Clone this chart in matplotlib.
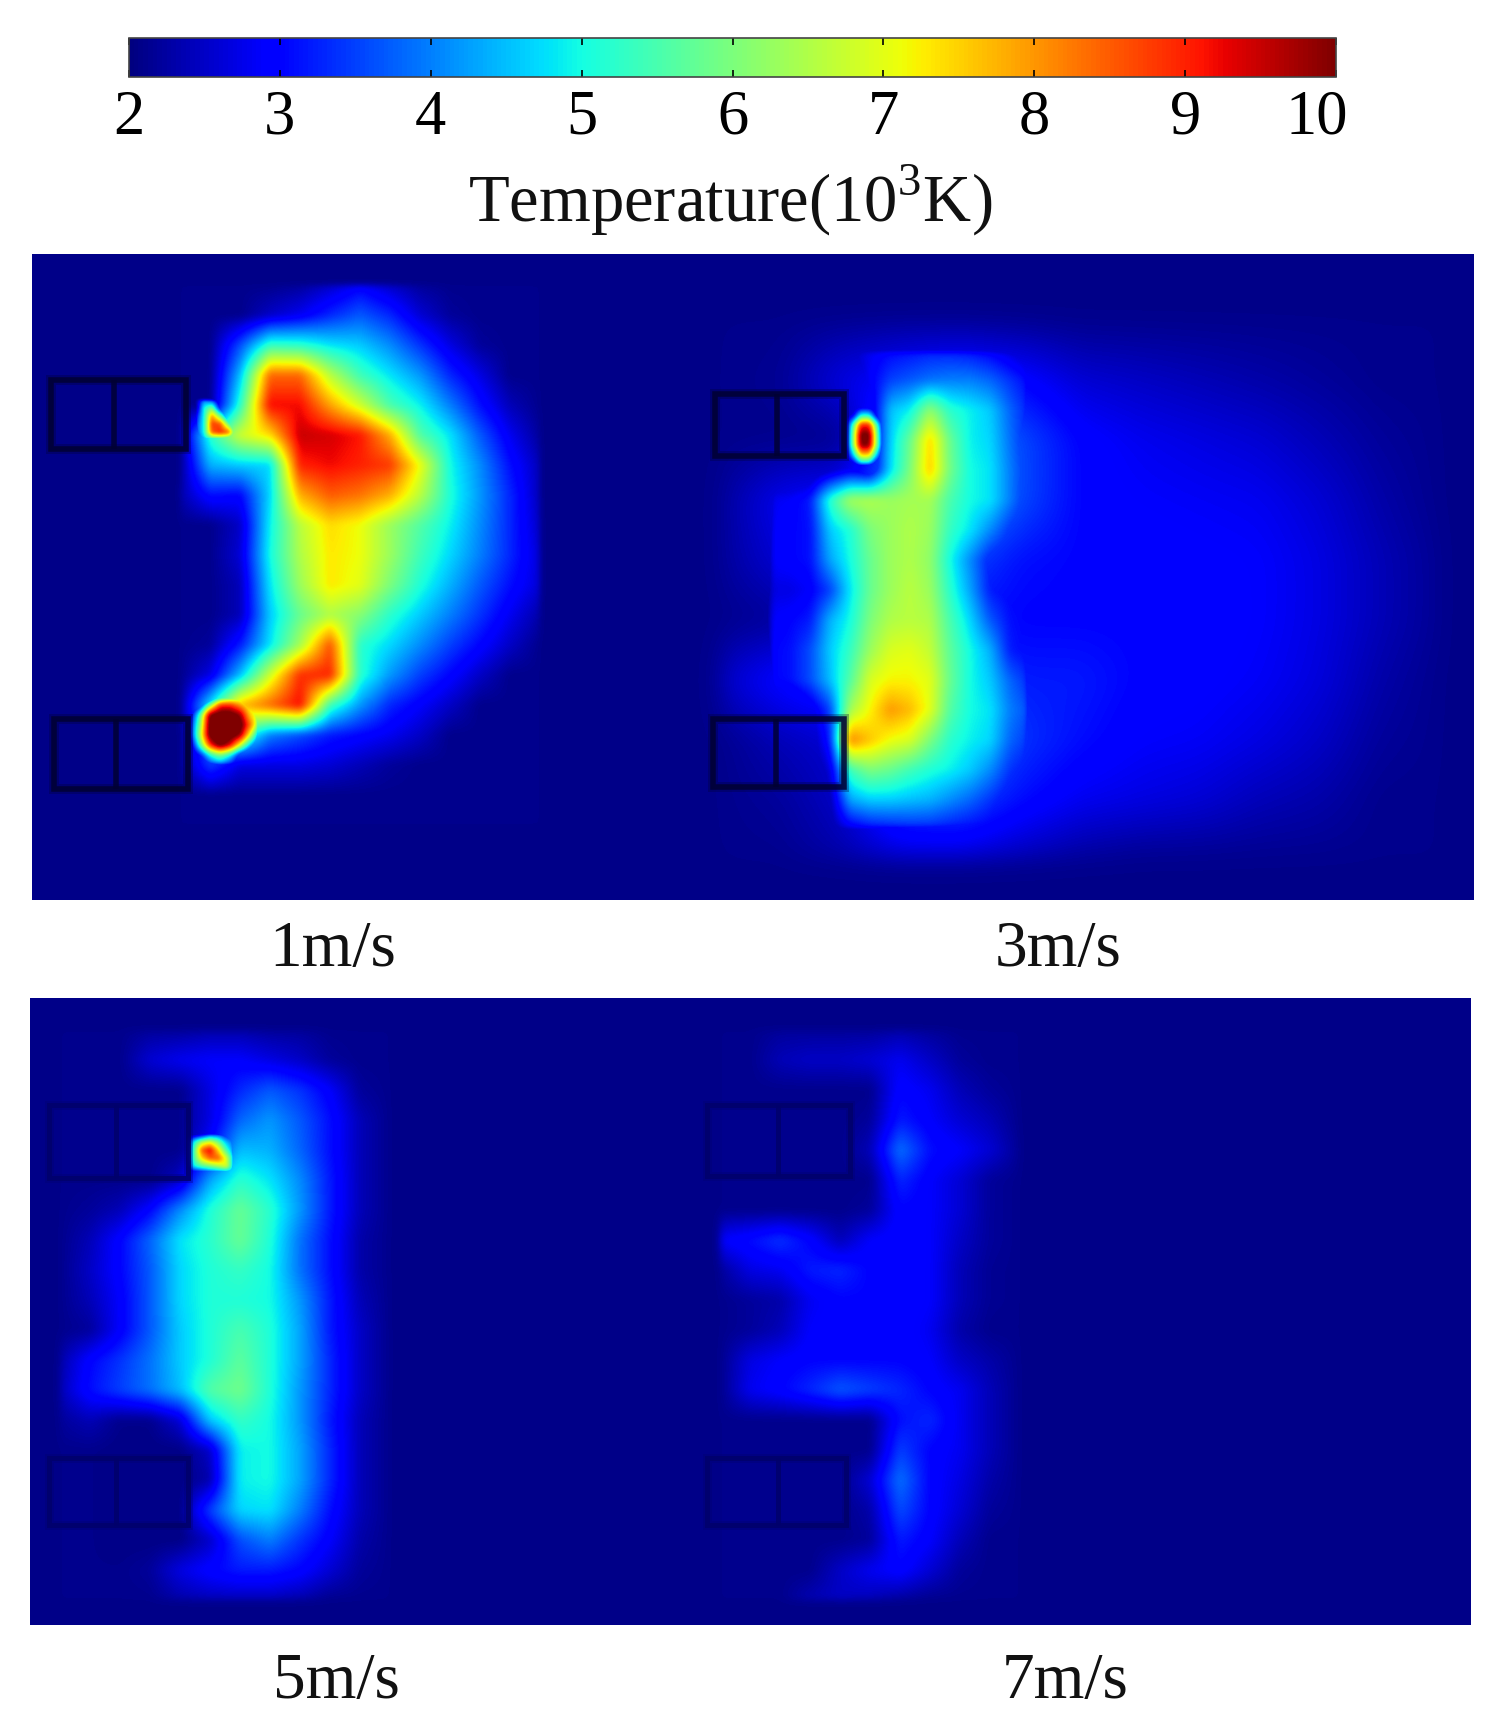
import numpy as np
import matplotlib
matplotlib.use("Agg")
import matplotlib.pyplot as plt
from matplotlib.cm import ScalarMappable
from matplotlib.colors import Normalize
from matplotlib.patches import Rectangle
from matplotlib.transforms import ScaledTranslation

plt.rcParams['font.family'] = ['Liberation Serif', 'DejaVu Serif']
plt.rcParams['mathtext.fontset'] = 'custom'
plt.rcParams['mathtext.rm'] = 'Liberation Serif'

W, H = 1495, 1717
BG = 2.08
T_MIN, T_MAX = 2, 10
cbar_ticks = [2, 3, 4, 5, 6, 7, 8, 9, 10]
speed_labels = ['1m/s', '3m/s', '5m/s', '7m/s']

# ---- 1 m/s ----
x1 = [180, 210, 240, 270, 300, 330, 360, 390, 420, 450, 480, 510, 540]
y1 = [285, 315, 345, 375, 405, 435, 465, 495, 525, 555, 585, 615, 645, 675, 705, 735, 765, 795, 825]
t1 = [
 [2.1, 2.1, 2.1, 2.1, 2.2, 2.5, 2.9, 2.5, 2.2, 2.1, 2.1, 2.1, 2.1],
 [2.1, 2.1, 2.1, 2.5, 2.8, 3.3, 3.7, 3.3, 2.6, 2.2, 2.1, 2.1, 2.1],
 [2.1, 2.1, 3.6, 5.3, 5.2, 4.8, 4.6, 4.1, 3.4, 2.7, 2.2, 2.1, 2.1],
 [2.1, 2.1, 4.5, 8.4, 8.4, 6.6, 5.4, 4.8, 4.2, 3.3, 2.7, 2.1, 2.1],
 [2.1, 2.1, 5.2, 9.2, 9.2, 7.9, 6.8, 5.5, 4.9, 4.0, 3.1, 2.4, 2.1],
 [2.1, 5.2, 6.8, 7.4, 9.5, 9.4, 9.1, 7.8, 5.6, 4.8, 3.7, 2.8, 2.2],
 [2.1, 4.4, 4.6, 4.7, 9.0, 9.2, 9.0, 8.8, 7.1, 5.0, 4.1, 3.1, 2.4],
 [2.3, 3.1, 3.0, 4.7, 7.8, 8.5, 8.3, 7.8, 6.6, 5.1, 4.2, 3.3, 2.4],
 [2.1, 2.1, 2.5, 4.9, 6.6, 7.4, 7.1, 6.3, 5.6, 4.9, 4.1, 3.3, 2.5],
 [2.1, 2.1, 2.6, 5.0, 6.5, 7.3, 7.1, 6.3, 5.4, 4.7, 4.0, 3.3, 2.6],
 [2.1, 2.1, 2.4, 4.8, 6.3, 7.3, 7.0, 6.0, 5.1, 4.4, 3.7, 3.1, 2.6],
 [2.1, 2.1, 2.4, 4.6, 5.8, 6.5, 6.1, 5.2, 4.6, 4.0, 3.4, 2.8, 2.3],
 [2.1, 2.2, 3.2, 4.8, 6.4, 8.6, 5.2, 4.7, 4.1, 3.5, 3.0, 2.5, 2.1],
 [2.1, 2.7, 4.5, 6.8, 8.9, 9.0, 5.2, 4.2, 3.5, 3.0, 2.5, 2.1, 2.1],
 [2.1, 4.8, 7.7, 8.4, 9.2, 5.4, 4.2, 3.3, 2.9, 2.5, 2.1, 2.1, 2.1],
 [2.1, 4.0, 5.5, 4.0, 3.6, 3.2, 3.0, 2.8, 2.5, 2.1, 2.1, 2.1, 2.1],
 [2.1, 3.5, 2.7, 2.7, 2.7, 2.6, 2.4, 2.2, 2.1, 2.1, 2.1, 2.1, 2.1],
 [2.1, 2.1, 2.1, 2.1, 2.1, 2.1, 2.1, 2.1, 2.1, 2.1, 2.1, 2.1, 2.1],
 [2.1, 2.1, 2.1, 2.1, 2.1, 2.1, 2.1, 2.1, 2.1, 2.1, 2.1, 2.1, 2.1],
]
x1a = [196, 204, 212, 220, 228, 236]
y1a = [400, 408, 416, 424, 432, 440]
t1a = [
 [2.1, 4.0, 3.5, 2.1, 2.1, 2.1],
 [2.1, 5.0, 6.0, 3.0, 2.1, 2.1],
 [3.0, 5.0, 8.0, 6.0, 3.5, 2.5],
 [3.5, 5.0, 8.8, 8.6, 6.0, 4.0],
 [3.5, 5.0, 8.5, 9.0, 8.5, 5.5],
 [3.0, 4.5, 5.0, 5.0, 5.0, 5.0],
]
x1b = [190, 200, 210, 220, 230, 240, 250, 260]
y1b = [695, 705, 715, 725, 735, 745, 755, 765]
t1b = [
 [2.1, 2.1, 2.1, 4.0, 5.0, 6.0, 6.0, 6.0],
 [2.1, 3.0, 6.0, 9.0, 9.0, 8.0, 7.0, 6.5],
 [2.5, 5.5, 10.3, 10.5, 10.5, 10.0, 7.5, 6.5],
 [3.0, 6.0, 10.5, 10.5, 10.5, 10.5, 8.5, 6.0],
 [3.0, 6.5, 10.5, 10.5, 10.5, 10.0, 7.0, 4.0],
 [2.1, 5.5, 9.0, 10.5, 9.5, 7.0, 4.5, 3.0],
 [2.1, 3.0, 5.0, 6.0, 5.0, 3.0, 2.5, 2.1],
 [2.1, 2.1, 3.4, 4.0, 3.2, 2.1, 2.1, 2.1],
]

# ---- 3 m/s ----
x3g = [720, 780, 840, 900, 960, 1020, 1080, 1140, 1200, 1260, 1320, 1380, 1440]
y3g = [320, 380, 440, 500, 560, 620, 680, 740, 800, 860]
t3g = [
 [2.1, 2.1, 2.15, 2.2, 2.2, 2.15, 2.1, 2.1, 2.1, 2.1, 2.1, 2.1, 2.1],
 [2.1, 2.15, 2.7, 3.0, 3.2, 3.0, 2.6, 2.5, 2.4, 2.3, 2.2, 2.1, 2.1],
 [2.1, 2.1, 2.1, 4.0, 4.5, 3.6, 3.0, 2.8, 2.7, 2.6, 2.4, 2.2, 2.1],
 [2.2, 2.8, 3.0, 4.0, 4.5, 3.6, 3.0, 2.9, 2.85, 2.8, 2.6, 2.3, 2.1],
 [2.2, 2.6, 3.1, 4.2, 3.6, 3.1, 3.0, 3.0, 2.95, 2.9, 2.7, 2.4, 2.15],
 [2.1, 2.2, 3.0, 4.0, 3.1, 3.0, 3.0, 3.0, 3.0, 2.9, 2.7, 2.4, 2.15],
 [2.5, 3.0, 3.3, 4.2, 3.6, 3.2, 3.2, 3.0, 2.95, 2.85, 2.65, 2.3, 2.1],
 [2.1, 2.4, 2.6, 4.2, 4.3, 3.4, 3.1, 2.9, 2.85, 2.7, 2.5, 2.2, 2.1],
 [2.1, 2.2, 2.5, 3.5, 3.6, 3.1, 2.8, 2.7, 2.6, 2.4, 2.3, 2.1, 2.1],
 [2.1, 2.1, 2.3, 2.6, 2.6, 2.4, 2.2, 2.1, 2.1, 2.1, 2.1, 2.1, 2.1],
]
x3c = [770, 790, 810, 830, 850, 870, 890, 910, 930, 950, 970, 990, 1010, 1030]
y3c = [350, 380, 410, 440, 470, 500, 530, 560, 590, 620, 650, 680, 710, 740, 770, 800, 830]
t3c = [
 [2.1, 2.1, 2.1, 2.1, 2.4, 2.8, 3.0, 3.1, 3.2, 3.2, 3.1, 2.9, 2.6, 2.3],
 [2.1, 2.1, 2.1, 2.1, 2.3, 2.9, 3.5, 3.7, 3.9, 4.0, 4.0, 3.8, 3.4, 3.0],
 [2.1, 2.1, 2.1, 2.1, 2.2, 2.5, 4.5, 4.9, 6.2, 5.2, 4.9, 4.6, 3.8, 3.2],
 [2.1, 2.1, 2.1, 2.1, 2.1, 2.4, 4.6, 5.8, 7.5, 5.8, 4.9, 4.7, 3.9, 3.2],
 [2.1, 2.1, 2.1, 2.4, 2.8, 2.6, 4.7, 6.0, 7.6, 5.9, 5.0, 4.8, 4.0, 3.3],
 [2.8, 2.9, 3.2, 5.2, 6.4, 6.5, 6.3, 6.4, 6.4, 5.5, 5.0, 4.8, 4.0, 3.2],
 [2.9, 3.0, 3.1, 4.6, 5.1, 6.0, 6.3, 6.5, 6.3, 5.3, 4.8, 4.1, 3.4, 3.1],
 [2.9, 3.0, 3.1, 4.3, 5.0, 5.8, 6.3, 6.5, 6.2, 5.0, 4.1, 3.2, 3.0, 3.0],
 [2.7, 2.7, 2.9, 3.5, 4.8, 5.8, 6.3, 6.6, 6.3, 5.2, 4.3, 3.2, 3.0, 3.0],
 [2.9, 3.0, 3.2, 4.4, 5.0, 6.0, 6.5, 6.6, 6.5, 5.5, 4.7, 3.7, 3.1, 3.0],
 [3.0, 3.1, 3.6, 4.6, 5.3, 6.3, 6.9, 7.0, 6.7, 5.7, 5.0, 4.4, 3.2, 3.0],
 [3.0, 3.1, 3.6, 4.5, 5.6, 6.9, 7.2, 7.2, 7.0, 5.8, 5.0, 4.6, 3.8, 3.3],
 [2.4, 2.2, 2.6, 3.5, 6.4, 7.2, 8.0, 7.7, 7.0, 5.6, 5.0, 4.8, 4.0, 3.6],
 [2.2, 2.2, 2.2, 3.2, 8.2, 7.6, 7.1, 6.9, 6.0, 5.2, 4.9, 4.7, 3.8, 3.4],
 [2.1, 2.1, 2.1, 2.6, 5.4, 6.0, 5.8, 5.4, 5.1, 4.9, 4.6, 4.1, 3.4, 3.1],
 [2.1, 2.1, 2.1, 2.3, 4.3, 4.6, 4.6, 4.5, 4.4, 4.1, 3.8, 3.4, 3.0, 2.8],
 [2.1, 2.1, 2.1, 2.2, 2.7, 3.0, 3.1, 3.2, 3.2, 3.1, 3.0, 2.9, 2.7, 2.5],
]
x3s = [845, 853, 861, 869, 877, 885]
y3s = [405, 415, 425, 435, 445, 455, 465]
t3s = [
 [2.1, 2.1, 2.1, 2.1, 2.1, 2.1],
 [2.1, 2.6, 5.0, 5.0, 2.6, 2.1],
 [2.1, 5.5, 9.0, 9.0, 5.5, 2.1],
 [2.1, 6.0, 10.2, 10.2, 6.0, 2.2],
 [2.1, 6.0, 10.0, 10.0, 6.0, 2.2],
 [2.1, 4.5, 7.5, 7.5, 4.5, 2.1],
 [2.1, 2.1, 4.0, 4.0, 2.1, 2.1],
]

# ---- 5 m/s ----
x5 = [60, 90, 120, 150, 180, 210, 240, 270, 300, 330, 360, 390]
y5 = [1030, 1060, 1090, 1120, 1150, 1180, 1210, 1240, 1270, 1300, 1330, 1360, 1390, 1420,
      1450, 1480, 1510, 1540, 1570, 1600]
t5 = [
 [2.1, 2.1, 2.1, 2.2, 2.2, 2.3, 2.3, 2.2, 2.2, 2.1, 2.1, 2.1],
 [2.1, 2.1, 2.1, 2.6, 2.8, 2.9, 2.9, 2.7, 2.5, 2.2, 2.1, 2.1],
 [2.1, 2.1, 2.1, 2.1, 2.1, 2.7, 3.3, 3.7, 3.4, 2.9, 2.2, 2.1],
 [2.1, 2.1, 2.1, 2.1, 2.1, 2.7, 3.8, 4.2, 3.7, 3.1, 2.4, 2.1],
 [2.1, 2.1, 2.1, 2.1, 2.1, 3.0, 4.5, 4.4, 3.8, 3.1, 2.4, 2.1],
 [2.1, 2.1, 2.1, 2.1, 2.5, 4.3, 5.2, 4.8, 4.1, 3.2, 2.4, 2.1],
 [2.1, 2.2, 2.4, 3.0, 4.1, 5.1, 5.8, 5.2, 4.2, 3.2, 2.4, 2.1],
 [2.1, 2.4, 3.0, 3.8, 4.8, 5.2, 5.8, 5.1, 3.9, 3.1, 2.3, 2.1],
 [2.1, 2.5, 3.0, 3.7, 4.7, 5.1, 5.3, 5.0, 3.9, 3.1, 2.3, 2.1],
 [2.1, 2.4, 2.9, 3.7, 4.7, 5.1, 5.1, 5.0, 4.2, 3.2, 2.4, 2.1],
 [2.1, 2.2, 2.9, 3.7, 4.6, 5.1, 5.5, 5.1, 4.3, 3.2, 2.5, 2.1],
 [2.3, 3.0, 3.4, 3.9, 4.6, 5.1, 5.7, 5.1, 4.3, 3.3, 2.5, 2.1],
 [2.4, 3.1, 3.5, 3.9, 4.5, 5.6, 5.9, 5.1, 4.2, 3.3, 2.5, 2.1],
 [2.2, 2.4, 2.1, 2.1, 2.6, 4.6, 5.3, 5.0, 4.2, 3.2, 2.4, 2.1],
 [2.1, 2.1, 2.05, 2.05, 2.05, 2.5, 4.9, 5.0, 4.3, 3.3, 2.4, 2.1],
 [2.1, 2.1, 2.05, 2.05, 2.05, 2.3, 4.9, 5.0, 4.3, 3.3, 2.4, 2.1],
 [2.1, 2.1, 2.05, 2.05, 2.05, 3.5, 4.7, 4.8, 4.0, 3.1, 2.4, 2.1],
 [2.1, 2.1, 2.05, 2.05, 2.05, 2.5, 3.6, 4.0, 3.4, 2.9, 2.3, 2.1],
 [2.1, 2.1, 2.1, 2.2, 2.7, 3.0, 3.2, 3.2, 3.0, 2.6, 2.2, 2.1],
 [2.1, 2.1, 2.1, 2.1, 2.3, 2.4, 2.4, 2.4, 2.3, 2.1, 2.1, 2.1],
]
x5s = [186, 194, 202, 210, 218, 226, 234]
y5s = [1134, 1142, 1150, 1158, 1166, 1174]
t5s = [
 [2.1, 2.1, 2.5, 3.5, 3.5, 3.0, 3.0],
 [2.1, 5.0, 6.5, 7.0, 6.0, 4.5, 3.8],
 [2.1, 5.5, 8.5, 9.3, 7.5, 5.5, 4.0],
 [2.1, 5.5, 7.5, 8.5, 8.5, 7.0, 4.5],
 [2.1, 5.0, 5.6, 6.0, 6.5, 7.0, 4.6],
 [2.1, 2.1, 2.5, 3.0, 3.2, 3.5, 4.0],
]

# ---- 7 m/s ----
x7 = [720, 750, 780, 810, 840, 870, 900, 930, 960, 990, 1020]
y7 = y5
t7 = [
 [2.1, 2.1, 2.2, 2.2, 2.2, 2.2, 2.3, 2.2, 2.1, 2.1, 2.1],
 [2.1, 2.1, 2.4, 2.5, 2.5, 2.6, 2.8, 2.5, 2.2, 2.1, 2.1],
 [2.1, 2.1, 2.1, 2.1, 2.1, 2.1, 3.0, 2.8, 2.4, 2.2, 2.1],
 [2.1, 2.1, 2.1, 2.1, 2.1, 2.2, 3.2, 2.9, 2.6, 2.4, 2.1],
 [2.1, 2.1, 2.1, 2.1, 2.1, 2.4, 3.9, 3.1, 2.9, 2.6, 2.15],
 [2.1, 2.1, 2.1, 2.1, 2.1, 2.1, 3.3, 2.9, 2.6, 2.2, 2.1],
 [2.1, 2.1, 2.1, 2.1, 2.1, 2.2, 3.0, 2.9, 2.6, 2.2, 2.1],
 [2.9, 3.1, 3.4, 3.0, 2.4, 2.9, 3.0, 2.9, 2.5, 2.2, 2.1],
 [2.2, 2.7, 2.8, 3.2, 3.3, 3.0, 3.0, 2.9, 2.4, 2.15, 2.1],
 [2.1, 2.2, 2.3, 2.8, 3.0, 3.0, 3.0, 2.9, 2.4, 2.15, 2.1],
 [2.1, 2.2, 2.4, 2.9, 3.0, 3.0, 3.0, 2.8, 2.3, 2.1, 2.1],
 [2.1, 2.7, 2.9, 3.0, 3.0, 3.0, 3.0, 2.9, 2.5, 2.3, 2.1],
 [2.1, 2.8, 3.0, 3.3, 3.7, 3.5, 3.3, 3.0, 2.8, 2.4, 2.1],
 [2.1, 2.1, 2.1, 2.1, 2.1, 2.1, 3.1, 3.3, 2.8, 2.4, 2.1],
 [2.1, 2.1, 2.1, 2.1, 2.1, 2.1, 3.5, 3.0, 2.8, 2.4, 2.1],
 [2.1, 2.1, 2.1, 2.1, 2.1, 2.6, 3.9, 3.0, 2.7, 2.3, 2.1],
 [2.1, 2.1, 2.1, 2.1, 2.1, 2.3, 3.6, 3.0, 2.6, 2.2, 2.1],
 [2.1, 2.1, 2.1, 2.1, 2.1, 2.2, 3.2, 2.9, 2.4, 2.1, 2.1],
 [2.1, 2.1, 2.1, 2.1, 2.5, 2.8, 3.0, 2.6, 2.2, 2.1, 2.1],
 [2.1, 2.1, 2.1, 2.4, 2.5, 2.4, 2.2, 2.1, 2.1, 2.1, 2.1],
]

# black nozzle outlines: (left, right, top, bottom, divider)
boxes_top = [(51, 186, 380, 449, 114), (54, 188, 719, 789, 116),
             (715, 844, 394, 456, 777), (713, 844, 719, 787, 776)]
boxes_bottom = [(49, 188, 1105, 1178, 116), (49, 188, 1458, 1525, 116),
                (707, 850, 1105, 1176, 778), (707, 846, 1458, 1525, 778)]


def gauss(a, sigma):
    r = int(3 * sigma)
    k = np.exp(-0.5 * (np.arange(-r, r + 1) / sigma) ** 2)
    k /= k.sum()
    a = np.apply_along_axis(lambda v: np.convolve(np.pad(v, r, mode='edge'), k, 'valid'), 0, a)
    a = np.apply_along_axis(lambda v: np.convolve(np.pad(v, r, mode='edge'), k, 'valid'), 1, a)
    return a


def layer(px, py, xs, ys, t, sigma):
    t = np.asarray(t, float)
    rows = np.array([np.interp(px, xs, r, left=BG, right=BG) for r in t])
    out = np.array([np.interp(py, ys, rows[:, i], left=BG, right=BG) for i in range(len(px))]).T
    return gauss(out, sigma)


def axes_px(l, r, t, b):
    return fig.add_axes([l / W, 1 - b / H, (r - l) / W, (b - t) / H])


def panel(rect, layers):
    l, r, t, b = rect
    ax = axes_px(l, r, t, b)
    px = np.arange(l, r) + 0.5
    py = np.arange(t, b) + 0.5
    field = np.full((len(py), len(px)), BG)
    for xs, ys, v, s in layers:
        field = np.maximum(field, layer(px, py, xs, ys, v, s))
    ax.imshow(field, cmap='jet', vmin=T_MIN, vmax=T_MAX, extent=(l, r, b, t),
              aspect='auto', interpolation='bilinear')
    return ax


fig = plt.figure(figsize=(W / 100, H / 100), dpi=100, facecolor='white')

ax_top = panel((32, 1474, 254, 900),
               [(x1, y1, t1, 3), (x1a, y1a, t1a, 1.5), (x1b, y1b, t1b, 2.5),
                (x3g, y3g, t3g, 12), (x3c, y3c, t3c, 3.5), (x3s, y3s, t3s, 2)])
ax_bot = panel((30, 1471, 998, 1625),
               [(x5, y5, t5, 4), (x5s, y5s, t5s, 1.5), (x7, y7, t7, 4)])

for ax, boxes, col, lw in ((ax_top, boxes_top, (0, 0, 0.20), 4.0),
                           (ax_bot, boxes_bottom, (0, 0, 0.42), 3.6)):
    for le, ri, to, bo, div in boxes:
        ax.add_patch(Rectangle((le, to), ri - le, bo - to, fill=False, ec=col, lw=lw * 1.8, alpha=0.3))
        ax.add_patch(Rectangle((le, to), ri - le, bo - to, fill=False, ec=col, lw=lw, alpha=0.85))
        ax.plot([div, div], [to, bo], color=col, lw=lw, alpha=0.85, solid_capstyle='butt')
    ax.set_axis_off()

# colour bar
cax = axes_px(129, 1336, 38, 77)
cb = fig.colorbar(ScalarMappable(Normalize(T_MIN, T_MAX), cmap='jet'), cax=cax,
                  orientation='horizontal', ticks=cbar_ticks)
cb.ax.tick_params(axis='x', direction='in', length=5, width=1.2, top=True, bottom=True,
                  labelsize=45, pad=9, color='black')
cb.outline.set_linewidth(1.2)
cb.outline.set_edgecolor('#444444')
fig.canvas.draw()
last = cb.ax.get_xticklabels()[-1]
last.set_transform(last.get_transform() + ScaledTranslation(-0.19, 0, fig.dpi_scale_trans))

fig.text(730 / W, 1 - 200 / H, 'Temperature(10$^{3}$K)', fontsize=48, ha='center', va='center', color='#111111')

for label, (cx, cy) in zip(speed_labels, [(333, 950), (1058, 950), (336, 1682), (1065, 1682)]):
    fig.text(cx / W, 1 - cy / H, label, fontsize=47, ha='center', va='center', color='#111111')

fig.savefig('out.png', dpi=100, facecolor='white')
